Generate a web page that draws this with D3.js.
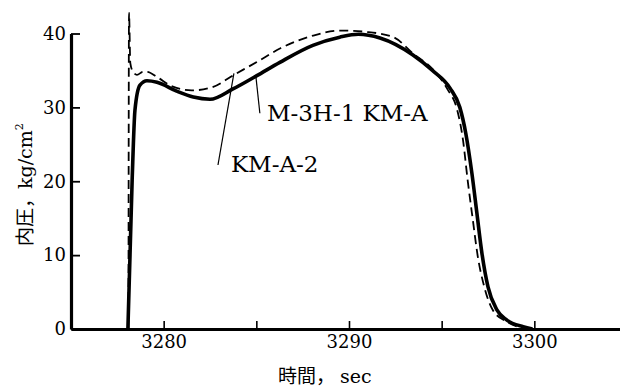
<!DOCTYPE html>
<html>
<head>
<meta charset="utf-8">
<script src="https://cdn.jsdelivr.net/npm/d3@7"></script>
<style>
  body { margin: 0; background: #fff; }
  svg { display: block; }
  .tick text { font-family: "DejaVu Serif", serif; font-size: 18px; fill: #000; }
</style>
</head>
<body>
<div id="chart"></div>
<script>
// M-3H-1 KM-A (solid): [sec, kg/cm2]
var solidTime = [3278.07, 3278.3, 3278.45, 3278.72, 3279.1, 3279.64, 3280.7, 3281.6, 3282.5, 3283.74, 3285.03,
  3286.27, 3288.05, 3289.5, 3290.5, 3291.67, 3293.45, 3294.5, 3295.45, 3295.98, 3296.3, 3296.63, 3296.9,
  3297.17, 3297.5, 3297.98, 3298.52, 3299.4, 3299.9]
var solidP = [0, 20.2, 29.6, 33.0, 33.6, 33.4, 32.2, 31.4, 31.1, 32.5, 34.3,
  36.1, 38.4, 39.5, 39.9, 39.4, 37.1, 35.0, 32.6, 30.0, 26.5, 21.1, 15.7,
  10.3, 5.7, 2.6, 1.2, 0.3, 0]

// KM-A-2 (dashed)
var dashTime = [3278.1, 3278.13, 3278.2, 3278.35, 3278.56, 3278.88, 3279.1, 3279.64, 3280.5, 3281.5, 3282.6,
  3283.79, 3285.0, 3286.3, 3288.05, 3289.5, 3291.0, 3292.4, 3293.45, 3294.5, 3295.35, 3295.8, 3296.15,
  3296.4, 3296.68, 3296.95, 3297.3, 3297.75, 3298.5, 3299.6]
var dashP = [0, 42.8, 36.0, 34.8, 34.4, 34.8, 34.8, 34.1, 32.8, 32.3, 32.7,
  34.4, 36.1, 38.0, 39.7, 40.4, 40.2, 39.5, 37.3, 35.2, 32.3, 30.0, 25.6,
  20.2, 14.8, 9.8, 5.7, 2.6, 1.0, 0]

var xTicks = [3280, 3285, 3290, 3295, 3300]
var xLabels = [3280, 3290, 3300]
var yTicks = [0, 10, 20, 30, 40]

// labels and their leader lines, in data units
var labelText = ['KM-A-2', 'M-3H-1 KM-A']
var labelPos = [[3283.63, 21.2], [3285.57, 28.1]]
var leaders = [
  [[3282.93, 22.2], [3283.79, 34.6]],
  [[3285.19, 29.2], [3284.98, 34.1]]
]

var width = 620, height = 390
var svg = d3.select('#chart').append('svg')
  .attr('width', width)
  .attr('height', height)

var x = d3.scaleLinear().domain([3275, 3305]).range([71, 627])
var y = d3.scaleLinear().domain([0, 40]).range([329, 33.5])

var line = d3.line()
  .x(function(d) { return x(d[0]) })
  .y(function(d) { return y(d[1]) })
  .curve(d3.curveMonotoneX)

var solid = d3.zip(solidTime, solidP)
var dashed = d3.zip(dashTime, dashP)

svg.append('path')
  .datum(dashed)
  .attr('d', line)
  .attr('fill', 'none')
  .attr('stroke', '#000')
  .attr('stroke-width', 1.8)
  .attr('stroke-dasharray', '9,5')

svg.append('path')
  .datum(solid)
  .attr('d', line)
  .attr('fill', 'none')
  .attr('stroke', '#000')
  .attr('stroke-width', 3.6)

// leader lines + labels
svg.selectAll('.leader').data(leaders).enter().append('line')
  .attr('class', 'leader')
  .attr('x1', function(d) { return x(d[0][0]) })
  .attr('y1', function(d) { return y(d[0][1]) })
  .attr('x2', function(d) { return x(d[1][0]) })
  .attr('y2', function(d) { return y(d[1][1]) })
  .attr('stroke', '#000')
  .attr('stroke-width', 1.2)

svg.selectAll('.lbl').data(labelText).enter().append('text')
  .attr('class', 'lbl')
  .attr('x', function(d, i) { return x(labelPos[i][0]) })
  .attr('y', function(d, i) { return y(labelPos[i][1]) })
  .attr('font-family', 'DejaVu Serif, serif')
  .attr('font-size', 23)
  .text(function(d) { return d })

// axes
var xAxis = svg.append('g')
  .attr('transform', 'translate(0,' + y(0) + ')')
  .call(d3.axisBottom(x).tickValues(xTicks).tickSize(-8).tickSizeOuter(0).tickPadding(6)
    .tickFormat(function(d) { return xLabels.indexOf(d) >= 0 ? d : '' }))
xAxis.select('.domain').attr('stroke-width', 3)
xAxis.selectAll('.tick line').attr('stroke-width', 1.6)

var yAxis = svg.append('g')
  .attr('transform', 'translate(' + x(3275) + ',0)')
  .call(d3.axisLeft(y).tickValues(yTicks).tickSize(-9).tickSizeOuter(0).tickPadding(5))
yAxis.select('.domain').attr('stroke-width', 3.2)
yAxis.selectAll('.tick line').attr('stroke-width', 1.8)

// axis titles
var xt = svg.append('text')
  .attr('x', 278)
  .attr('y', 383)
  .attr('font-size', 19)
xt.append('tspan').attr('font-family', 'Noto Sans CJK JP').text('時間，')
xt.append('tspan').attr('x', 340).attr('font-family', 'DejaVu Serif, serif').attr('font-size', 19).text('sec')

var yt = svg.append('text')
  .attr('transform', 'translate(32,246) rotate(-90)')
  .attr('font-size', 19)
yt.append('tspan').attr('font-family', 'Noto Sans CJK JP').text('内圧，')
yt.append('tspan').attr('font-family', 'DejaVu Serif, serif').text('kg/cm')
yt.append('tspan').attr('font-family', 'DejaVu Serif, serif').attr('font-size', 11).attr('dy', -9).text('2')
</script>
</body>
</html>
